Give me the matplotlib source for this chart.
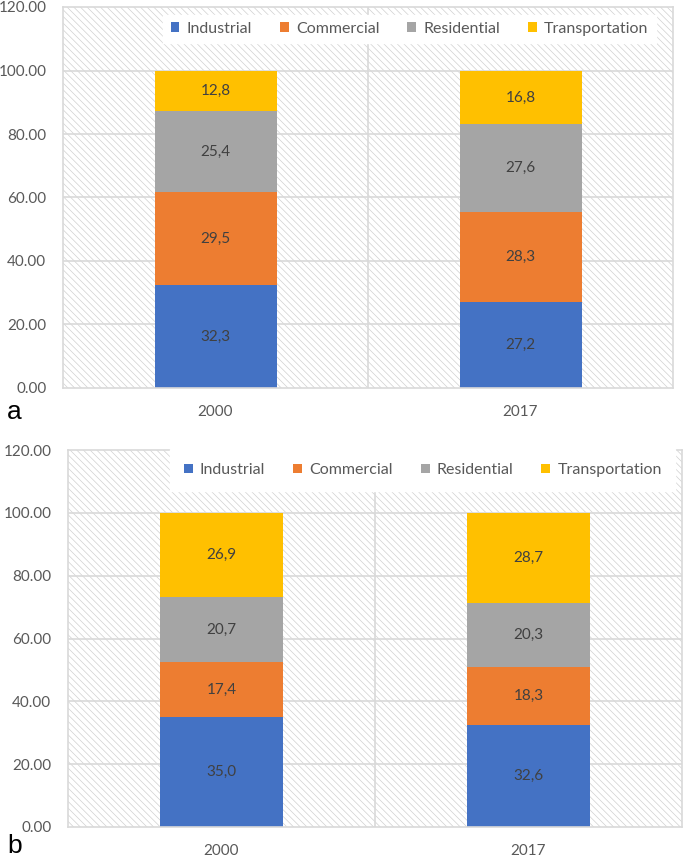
import matplotlib
matplotlib.use("Agg")
import matplotlib.pyplot as plt
from matplotlib.patches import Rectangle
import numpy as np

years = ["2000", "2017"]
sectors = ["Industrial", "Commercial", "Residential", "Transportation"]
colors = ["#4472C4", "#ED7D31", "#A5A5A5", "#FFC000"]

# Panel a
a_industrial = [32.3, 27.2]
a_commercial = [29.5, 28.3]
a_residential = [25.4, 27.6]
a_transportation = [12.8, 16.8]

# Panel b
b_industrial = [35.0, 32.6]
b_commercial = [17.4, 18.3]
b_residential = [20.7, 20.3]
b_transportation = [26.9, 28.7]

yticks = [0, 20, 40, 60, 80, 100, 120]

FONT = "Lato"
TXT = "#595959"
GRID = "#D9D9D9"

plt.rcParams["font.family"] = [FONT, "DejaVu Sans"]
plt.rcParams["hatch.linewidth"] = 0.5

fig = plt.figure(figsize=(6.85, 8.59), dpi=100)


def panel(rect, series, leg_center, leg_pad, letter, letter_y):
    ax = fig.add_axes(rect)
    ax.set_xlim(-0.5, 1.5)
    ax.set_ylim(0, 120)
    bg = Rectangle((0, 0), 1, 1, transform=ax.transAxes, facecolor="white",
                   edgecolor="#D0D0D0", lw=0, hatch="\\" * 5, zorder=0)
    ax.add_patch(bg)
    ax.patch.set_visible(False)
    for y in yticks[1:-1]:
        ax.axhline(y, color=GRID, lw=1.2, zorder=0.5)
    ax.axvline(0.5, color=GRID, lw=1.2, zorder=0.5)
    x = np.arange(len(years))
    bottom = np.zeros(len(years))
    for name, vals, c in zip(sectors, series, colors):
        vals = np.array(vals)
        ax.bar(x, vals, 0.4, bottom=bottom, color=c, label=name, zorder=2, lw=0)
        for xi, b, v in zip(x, bottom, vals):
            ax.text(xi, b + v / 2, f"{v:.1f}".replace(".", ","), ha="center",
                    va="center", fontsize=11, color="#404040", zorder=3)
        bottom = bottom + vals
    for s in ax.spines.values():
        s.set_color(GRID)
        s.set_linewidth(1.2)
    ax.set_xticks(x)
    ax.set_xticklabels(years)
    ax.set_yticks(yticks)
    ax.set_yticklabels([f"{t:.2f}" for t in yticks])
    ax.tick_params(axis="both", length=0, labelsize=11, colors=TXT)
    ax.tick_params(axis="x", pad=12)
    ax.tick_params(axis="y", pad=12)
    leg = ax.legend(loc="center", bbox_to_anchor=leg_center, ncol=4,
                    frameon=True, fancybox=False, framealpha=1,
                    edgecolor="white", facecolor="white", fontsize=11.5,
                    handlelength=0.55, handleheight=0.55, handletextpad=0.45,
                    columnspacing=1.75, borderpad=leg_pad, borderaxespad=0)
    for t in leg.get_texts():
        t.set_color(TXT)
    leg.set_zorder(4)
    fig.text(0.01, letter_y, letter, fontsize=19, color="black",
             family="Liberation Sans", va="baseline", ha="left")
    return ax


panel([63 / 685, 1 - 388 / 859, 610 / 685, 381 / 859],
      [a_industrial, a_commercial, a_residential, a_transportation],
      (0.568, 0.943), 0.45, "a", 1 - 419 / 859)
panel([68 / 685, 1 - 827 / 859, 614 / 685, 377 / 859],
      [b_industrial, b_commercial, b_residential, b_transportation],
      (0.578, 0.947), 0.85, "b", 1 - 853 / 859)

fig.savefig("out.png", dpi=100)
